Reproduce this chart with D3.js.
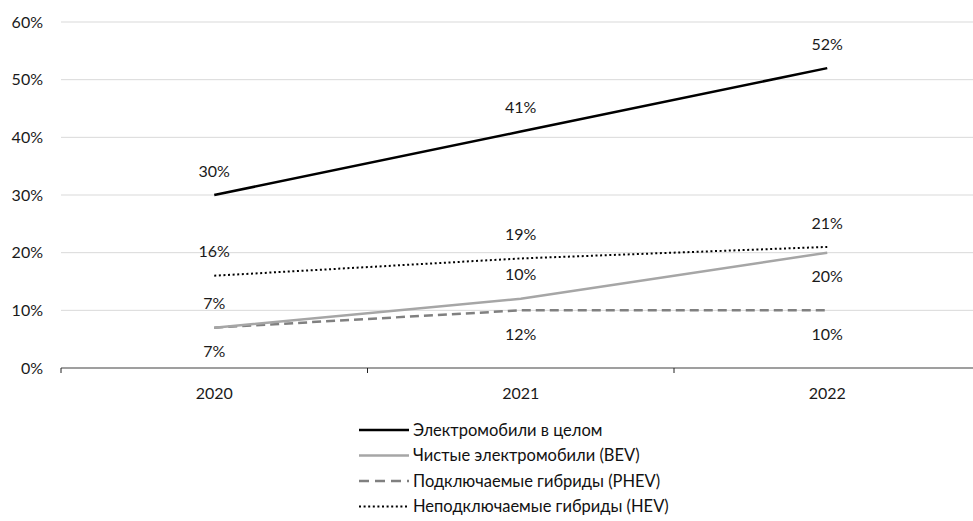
<!DOCTYPE html>
<html><head><meta charset="utf-8">
<script src="https://cdn.jsdelivr.net/npm/d3@7"></script>
<style>body{margin:0;background:#fff;}svg{display:block;font-family:Lato,"Open Sans",sans-serif;}</style>
</head><body>
<svg id="c" width="973" height="521"></svg>
<script>
const categories = ["2020", "2021", "2022"];
const seriesNames = ["Электромобили в целом", "Чистые электромобили (BEV)", "Подключаемые гибриды (PHEV)", "Неподключаемые гибриды (HEV)"];
const totalValues = [30, 41, 52];
const bevValues = [7, 12, 20];
const phevValues = [7, 10, 10];
const hevValues = [16, 19, 21];
const totalLabels = ["30%", "41%", "52%"];
const bevLabels = ["7%", "10%", "20%"];
const phevLabels = ["7%", "12%", "10%"];
const hevLabels = ["16%", "19%", "21%"];
const yTicks = [0, 10, 20, 30, 40, 50, 60];

(function () {
const series = [
  {name: seriesNames[0], values: totalValues, labels: totalLabels, place: ["above","above","above"], color: "#000", width: 2.5, dash: null},
  {name: seriesNames[1], values: bevValues, labels: bevLabels, place: ["below","above","below"], color: "#a6a6a6", width: 2.5, dash: null},
  {name: seriesNames[2], values: phevValues, labels: phevLabels, place: ["above","below","below"], color: "#808080", width: 2.5, dash: "9,5"},
  {name: seriesNames[3], values: hevValues, labels: hevLabels, place: ["above","above","above"], color: "#000", width: 2, dash: "2,2.6"}
];

const FS = 16;
const svg = d3.select("#c");
const mLeft = 61, mRight = 980.5, mTop = 22, mBottom = 368;
const x = d3.scaleBand().domain(categories).range([mLeft, mRight]);
const y = d3.scaleLinear().domain([0, 60]).range([mBottom, mTop]);

svg.append("g").selectAll("line").data(yTicks.filter(d => d > 0)).join("line")
  .attr("x1", mLeft).attr("x2", 973).attr("y1", d => y(d)).attr("y2", d => y(d))
  .attr("stroke", "#d9d9d9").attr("stroke-width", 1);

svg.append("g").selectAll("text").data(yTicks).join("text")
  .attr("x", 43).attr("y", d => y(d)).attr("dy", "0.35em").attr("text-anchor", "end")
  .attr("font-size", FS).attr("fill", "#1a1a1a").text(d => d + "%");

const xa = svg.append("g").attr("transform", `translate(0,${mBottom})`);
xa.append("line").attr("x1", mLeft).attr("x2", 973).attr("stroke", "#7f7f7f").attr("stroke-width", 1.3);
const tickPos = categories.map(c => x(c)).concat([x(categories[2]) + x.bandwidth()]);
xa.selectAll("line.t").data(tickPos).join("line").attr("class", "t")
  .attr("x1", d => d).attr("x2", d => d).attr("y1", 0).attr("y2", 5)
  .attr("stroke", "#222").attr("stroke-width", 1);
xa.selectAll("text").data(categories).join("text")
  .attr("x", d => x(d) + x.bandwidth() / 2).attr("y", 25).attr("dy", "0.35em")
  .attr("text-anchor", "middle").attr("font-size", FS).attr("fill", "#1a1a1a").text(d => d);

const cx = c => x(c) + x.bandwidth() / 2;
const line = d3.line().x((d, i) => cx(categories[i])).y(d => y(d));

[2, 1, 3, 0].forEach(k => {
  const s = series[k];
  svg.append("path").datum(s.values).attr("d", line).attr("fill", "none")
    .attr("stroke", s.color).attr("stroke-width", s.width)
    .attr("stroke-dasharray", s.dash);
});

series.forEach(s => {
  svg.append("g").selectAll("text").data(s.values).join("text")
    .attr("x", (d, i) => cx(categories[i]))
    .attr("y", (d, i) => y(d) + (s.place[i] === "above" ? -24 : 24))
    .attr("dy", "0.35em").attr("text-anchor", "middle").attr("font-size", FS).attr("fill", "#1a1a1a")
    .text((d, i) => s.labels[i]);
});

const lg = svg.append("g");
series.forEach((s, i) => {
  const yy = 430 + i * 25.5;
  lg.append("line").attr("x1", 359).attr("x2", 409).attr("y1", yy).attr("y2", yy)
    .attr("stroke", s.color).attr("stroke-width", s.width)
    .attr("stroke-dasharray", s.dash === "9,5" ? "10,6" : s.dash);
  lg.append("text").attr("x", 413).attr("y", yy).attr("dy", "0.35em")
    .attr("font-size", 16.5).attr("fill", "#111").text(s.name);
});
})();
</script>
</body></html>
